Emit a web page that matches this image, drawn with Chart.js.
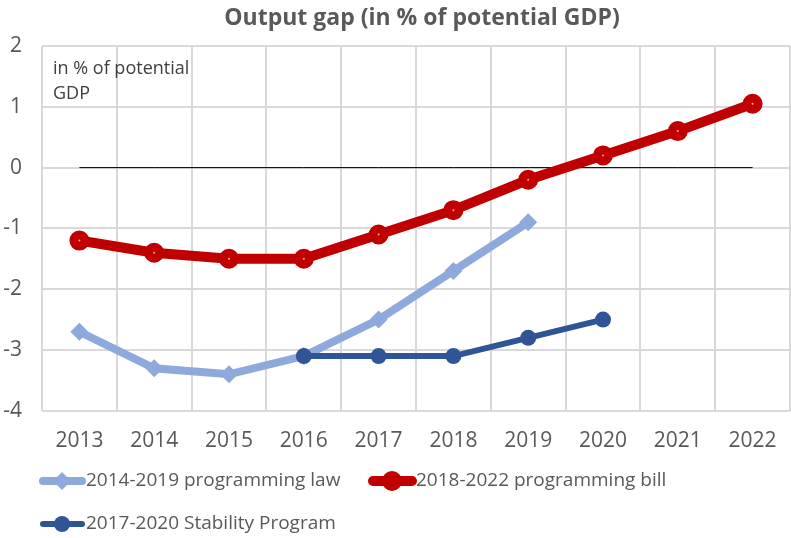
<!DOCTYPE html>
<html>
<head>
<meta charset="utf-8">
<script src="https://cdn.jsdelivr.net/npm/chart.js@4"></script>
<style>
  html, body { margin: 0; padding: 0; background: #fff; overflow: hidden; }
</style>
</head>
<body>
<canvas id="chart" width="791" height="538"></canvas>
<script>
// Dados
const anos = ["2013", "2014", "2015", "2016", "2017", "2018", "2019", "2020", "2021", "2022"];
const leiProgramacao = [-2.7, -3.3, -3.4, -3.1, -2.5, -1.7, -0.9, null, null, null];
const projetoLei = [-1.2, -1.4, -1.5, -1.5, -1.1, -0.7, -0.2, 0.2, 0.6, 1.05];
const programaEstabilidade = [null, null, null, -3.1, -3.1, -3.1, -2.8, -2.5, null, null];
const linhaZero = [0, 0, 0, 0, 0, 0, 0, 0, 0, 0];
const nomesSeries = ["2014-2019 programming law", "2018-2022 programming bill", "2017-2020 Stability Program"];

const fonte = "'Open Sans', 'Noto Sans', sans-serif";
const cinzaTexto = "#595959";

// Plugin para título, anotação e legenda
const extras = {
	id: "extras",
	afterDraw(chart) {
		const ctx = chart.ctx;
		ctx.save();
		// Título
		ctx.fillStyle = cinzaTexto;
		ctx.font = "bold 23px " + fonte;
		ctx.textAlign = "center";
		ctx.textBaseline = "middle";
		ctx.fillText("Output gap (in % of potential GDP)", 422, 18);
		// Anotação
		ctx.fillStyle = "#404040";
		ctx.font = "18px " + fonte;
		ctx.textAlign = "left";
		ctx.fillText("in % of potential", 53, 69);
		ctx.fillText("GDP", 53, 94);
		// Legenda
		const itens = [
			{ x: 40, y: 481, ds: chart.data.datasets[0] },
			{ x: 370, y: 481, ds: chart.data.datasets[1] },
			{ x: 40, y: 524, ds: chart.data.datasets[2] },
		];
		for (const it of itens) {
			ctx.strokeStyle = it.ds.borderColor;
			ctx.lineWidth = it.ds.borderWidth;
			ctx.lineCap = "round";
			ctx.beginPath();
			ctx.moveTo(it.x + 3, it.y);
			ctx.lineTo(it.x + 42, it.y);
			ctx.stroke();
			ctx.fillStyle = it.ds.pointBorderColor;
			ctx.beginPath();
			const r = it.ds.pointRadius + it.ds.pointBorderWidth / 2;
			if (it.ds.pointStyle === "rectRot") {
				ctx.moveTo(it.x + 22, it.y - r);
				ctx.lineTo(it.x + 22 + r, it.y);
				ctx.lineTo(it.x + 22, it.y + r);
				ctx.lineTo(it.x + 22 - r, it.y);
				ctx.closePath();
			} else {
				ctx.arc(it.x + 22, it.y, r, 0, Math.PI * 2);
			}
			ctx.fill();
			ctx.fillStyle = cinzaTexto;
			ctx.font = "19px " + fonte;
			ctx.textAlign = "left";
			ctx.fillText(it.ds.label, it.x + 46, it.y);
		}
		ctx.restore();
	},
};

const ctx = document.getElementById("chart").getContext("2d");
new Chart(ctx, {
	type: "line",
	data: {
		labels: anos,
		datasets: [
			{
				label: nomesSeries[0],
				data: leiProgramacao,
				borderColor: "#8EA9DB",
				backgroundColor: "#8EA9DB",
				borderWidth: 8,
				pointStyle: "rectRot",
				pointRadius: 9,
				pointBackgroundColor: "#8EA9DB",
				pointBorderColor: "#8EA9DB",
				pointBorderWidth: 0,
				order: 2,
			},
			{
				label: nomesSeries[1],
				data: projetoLei,
				borderColor: "#C00000",
				backgroundColor: "#C00000",
				borderWidth: 10,
				pointStyle: "circle",
				pointRadius: 5.5,
				pointBackgroundColor: "#F4B183",
				pointBorderColor: "#C00000",
				pointBorderWidth: 9,
				order: 1,
			},
			{
				label: nomesSeries[2],
				data: programaEstabilidade,
				borderColor: "#2F5597",
				backgroundColor: "#2F5597",
				borderWidth: 6,
				pointStyle: "circle",
				pointRadius: 8,
				pointBackgroundColor: "#2F5597",
				pointBorderColor: "#2F5597",
				pointBorderWidth: 0,
				order: 0,
			},
			{
				label: "zero",
				data: linhaZero,
				borderColor: "#000000",
				borderWidth: 1,
				pointRadius: 0,
				order: 3,
			},
		],
	},
	options: {
		responsive: false,
		animation: false,
		layout: { autoPadding: false, padding: { top: 46, right: 1, bottom: 66, left: 0 } },
		scales: {
			x: {
				offset: true,
				afterFit: (scale) => { scale.paddingLeft = 0; scale.paddingRight = 0; },
				grid: { offset: true, color: "#D9D9D9", lineWidth: 2, drawTicks: false },
				border: { display: false },
				ticks: { color: cinzaTexto, font: { family: fonte, size: 21 }, padding: 18, maxRotation: 0 },
			},
			y: {
				min: -4,
				max: 2,
				afterFit: (scale) => { scale.width = 42; },
				grid: { color: "#D9D9D9", lineWidth: 2, drawTicks: false },
				border: { display: false },
				ticks: { stepSize: 1, color: cinzaTexto, font: { family: fonte, size: 21 }, padding: 20 },
			},
		},
		plugins: {
			legend: { display: false },
			title: { display: false },
			tooltip: { enabled: false },
		},
	},
	plugins: [extras],
});
</script>
</body>
</html>
